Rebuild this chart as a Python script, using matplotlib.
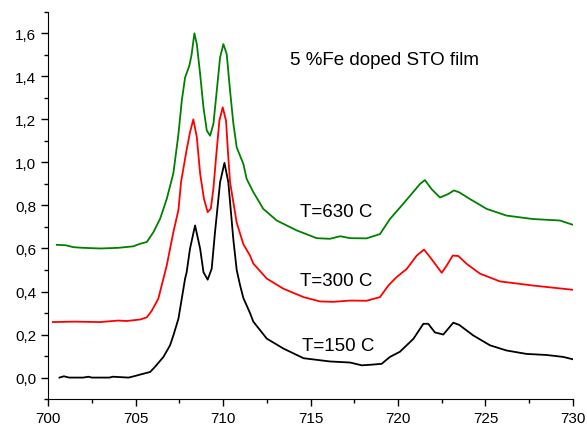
import matplotlib
matplotlib.use("Agg")
import matplotlib.pyplot as plt
from matplotlib.ticker import MultipleLocator, FuncFormatter

plt.rcParams['font.family'] = ['Liberation Sans', 'DejaVu Sans']

# T=150 C
x_150 = [700.65, 700.9, 701.2, 702.0, 702.3, 702.5, 703.5, 703.7, 704.6, 704.9,
         705.26, 705.83, 706.11, 706.59, 706.97, 707.16, 707.45, 707.64, 707.83, 707.92,
         708.11, 708.4, 708.69, 708.88, 709.12, 709.35, 709.54, 709.83, 710.08, 710.3,
         710.59, 710.78, 710.97, 711.16, 711.54, 711.73, 712.5, 713.45, 714.6, 716.1,
         717.26, 717.93, 718.5, 719.07, 719.3, 719.54, 720.11, 720.88, 721.45, 721.73,
         722.11, 722.59, 723.16, 723.5, 724.3, 725.26, 726.2, 727.35, 728.5, 729.45,
         730.0]
y_150 = [0.0, 0.006, 0.0, 0.0, 0.004, 0.0, 0.0, 0.004, 0.0, 0.006,
         0.014, 0.026, 0.05, 0.096, 0.15, 0.196, 0.274, 0.367, 0.46, 0.49,
         0.599, 0.707, 0.599, 0.49, 0.455, 0.506, 0.676, 0.908, 0.998, 0.908,
         0.64, 0.50, 0.43, 0.37, 0.30, 0.26, 0.181, 0.135, 0.09, 0.075,
         0.07, 0.057, 0.06, 0.064, 0.08, 0.096, 0.12, 0.18, 0.25, 0.25,
         0.21, 0.20, 0.255, 0.245, 0.196, 0.15, 0.126, 0.11, 0.105, 0.096,
         0.085]

# T=300 C
x_300 = [700.27, 701.5, 702.97, 704.0, 704.5, 705.26, 705.64, 705.92, 706.3, 706.78,
         707.16, 707.45, 707.6, 707.75, 707.92, 708.11, 708.3, 708.5, 708.69, 708.91,
         709.12, 709.3, 709.45, 709.6, 709.79, 709.98, 710.17, 710.3, 710.4, 710.78,
         711.16, 711.54, 711.73, 712.5, 713.45, 714.6, 715.54, 716.3, 717.26, 718.2,
         718.97, 719.45, 719.92, 720.5, 721.07, 721.49, 721.83, 722.2, 722.5, 722.78,
         723.13, 723.45, 723.92, 724.69, 725.83, 727.7, 730.0]
y_300 = [0.258, 0.26, 0.258, 0.265, 0.263, 0.27, 0.28, 0.31, 0.367, 0.521,
         0.676, 0.78, 0.91, 0.98, 1.06, 1.14, 1.20, 1.117, 0.947, 0.83,
         0.769, 0.785, 0.88, 1.024, 1.194, 1.256, 1.194, 1.024, 0.908, 0.72,
         0.62, 0.567, 0.53, 0.46, 0.413, 0.374, 0.354, 0.352, 0.358, 0.357,
         0.374, 0.428, 0.467, 0.505, 0.567, 0.595, 0.56, 0.52, 0.487, 0.52,
         0.567, 0.565, 0.529, 0.483, 0.447, 0.428, 0.408]

# T=630 C
x_630 = [700.5, 701.0, 701.45, 702.0, 703.0, 704.0, 704.87, 705.26, 705.64, 706.02,
         706.4, 706.78, 707.16, 707.45, 707.64, 707.83, 708.07, 708.2, 708.36, 708.5,
         708.69, 708.88, 709.07, 709.26, 709.45, 709.64, 709.83, 710.02, 710.21, 710.4,
         710.59, 710.78, 711.16, 711.35, 711.73, 712.3, 713.07, 714.21, 715.35, 716.1,
         716.7, 717.26, 718.2, 718.97, 719.54, 720.11, 720.69, 721.26, 721.54, 721.92,
         722.4, 722.87, 723.2, 723.5, 724.11, 725.07, 726.2, 727.7, 729.26, 730.0]
y_630 = [0.617, 0.615, 0.606, 0.603, 0.60, 0.603, 0.61, 0.622, 0.63, 0.676,
         0.738, 0.83, 0.95, 1.132, 1.287, 1.395, 1.449, 1.50, 1.60, 1.55,
         1.41, 1.256, 1.148, 1.124, 1.18, 1.333, 1.488, 1.55, 1.503, 1.333,
         1.18, 1.07, 0.993, 0.923, 0.862, 0.784, 0.73, 0.684, 0.648, 0.645,
         0.657, 0.648, 0.647, 0.667, 0.737, 0.79, 0.845, 0.90, 0.918, 0.876,
         0.837, 0.853, 0.87, 0.861, 0.83, 0.784, 0.753, 0.737, 0.73, 0.71]

labels = ["T=150 C", "T=300 C", "T=630 C"]
title = "5 %Fe doped STO film"

fig = plt.figure(figsize=(5.87, 4.27), dpi=100)
ax = fig.add_axes([0.082, 0.063, 0.894, 0.907])

ax.plot(x_150, y_150, color='black', lw=1.3, solid_joinstyle='round')
ax.plot(x_300, y_300, color='#ff0000', lw=1.3, solid_joinstyle='round')
ax.plot(x_630, y_630, color='#008000', lw=1.3, solid_joinstyle='round')

ax.set_xlim(700, 730)
ax.set_ylim(-0.1, 1.7)
ax.xaxis.set_major_locator(MultipleLocator(5))
ax.xaxis.set_minor_locator(MultipleLocator(2.5))
ax.yaxis.set_major_locator(MultipleLocator(0.2))
ax.yaxis.set_minor_locator(MultipleLocator(0.1))
ax.yaxis.set_major_formatter(FuncFormatter(lambda v, p: f"{v:.1f}".replace('.', ',')))
ax.tick_params(which='major', direction='out', length=5, width=1, labelsize=11)
ax.tick_params(which='minor', direction='out', length=3, width=1)
for s in ['top', 'right']:
    ax.spines[s].set_visible(False)

ax.text(713.8, 1.48, title, fontsize=13.5, va='center')
ax.text(714.4, 0.77, labels[2], fontsize=13.5, va='center')
ax.text(714.4, 0.45, labels[1], fontsize=13.5, va='center')
ax.text(714.5, 0.15, labels[0], fontsize=13.5, va='center')

fig.savefig("out.png", dpi=100)
